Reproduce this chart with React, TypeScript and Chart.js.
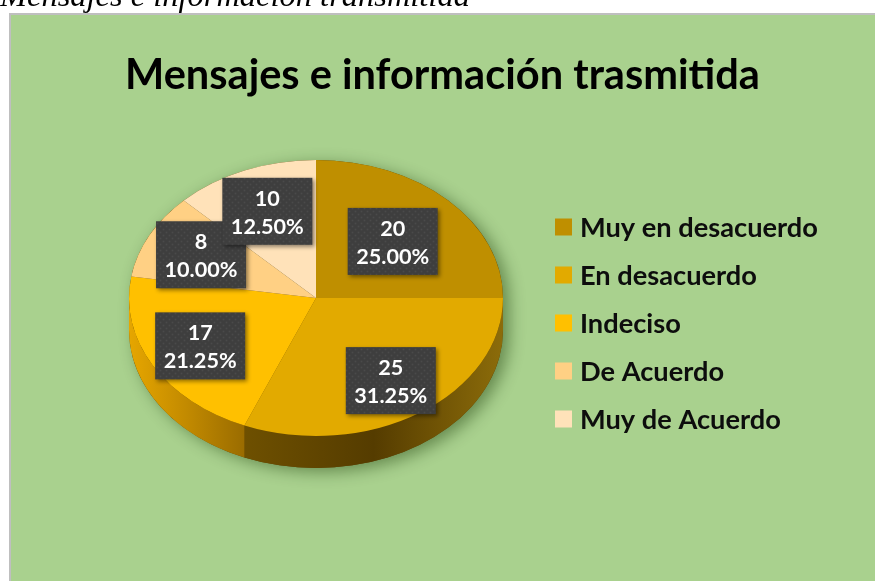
import React, { useEffect, useRef } from "react";
import { Chart, registerables } from "chart.js";

Chart.register(...registerables);

const categories = ["Muy en desacuerdo", "En desacuerdo", "Indeciso", "De Acuerdo", "Muy de Acuerdo"];
const counts = [20, 25, 17, 8, 10];
const titleText = "Mensajes e información trasmitida";
const captionText = "Mensajes e información transmitida";

const sliceColors = ["#BF8F00", "#E2AA00", "#FFC000", "#FFD084", "#FFE2B9"];
// side (extrusion) gradient stops per slice: [left, middle, right]
const sideColors = [
  ["#8A6A08", "#7A5C04", "#8A6A08"],
  ["#6E5000", "#553C00", "#8C6C0A"],
  ["#E6A600", "#C28A00", "#9A6C00"],
  ["#C89A50", "#B08440", "#9A7030"],
  ["#D8B888", "#C8A878", "#B89868"],
];
const labelRadius = [0.58, 0.72, 0.71, 0.69, 0.68];

const FONT = "Lato, 'Noto Sans', sans-serif";

function fitSize(ctx: CanvasRenderingContext2D, text: string, width: number, weight: string, family: string, style = "normal") {
  ctx.save();
  ctx.font = `${style} ${weight} 100px ${family}`;
  const w = ctx.measureText(text).width;
  ctx.restore();
  return (100 * width) / w;
}

let dotPattern: CanvasPattern | null = null;
function getPattern(ctx: CanvasRenderingContext2D) {
  if (dotPattern) return dotPattern;
  const c = document.createElement("canvas");
  c.width = 6;
  c.height = 6;
  const p = c.getContext("2d")!;
  p.fillStyle = "#3E3E3E";
  p.fillRect(0, 0, 6, 6);
  p.fillStyle = "#4A4A4A";
  p.beginPath();
  p.arc(1.5, 1.5, 1, 0, Math.PI * 2);
  p.fill();
  p.beginPath();
  p.arc(4.5, 4.5, 1, 0, Math.PI * 2);
  p.fill();
  dotPattern = ctx.createPattern(c, "repeat");
  return dotPattern;
}

const K = 138 / 187; // vertical squash of the pie
const DEPTH = 32;

const pie3dPlugin = {
  id: "pie3d",
  beforeDraw(chart: any) {
    const ctx: CanvasRenderingContext2D = chart.ctx;
    const W = chart.width;
    const H = chart.height;
    ctx.save();
    ctx.fillStyle = "#FFFFFF";
    ctx.fillRect(0, 0, W, H);
    // caption above the figure (cut off)
    const cs = fitSize(ctx, captionText, 470, "normal", "'Liberation Serif', serif", "italic");
    ctx.font = `italic normal ${cs}px 'Liberation Serif', serif`;
    ctx.fillStyle = "#000000";
    ctx.textBaseline = "alphabetic";
    ctx.textAlign = "left";
    ctx.fillText(captionText, 0, 6);
    // green chart area with grey border
    ctx.fillStyle = "#BFBFBF";
    ctx.fillRect(9, 13, W - 9, H - 13);
    ctx.fillStyle = "#A9D18E";
    ctx.fillRect(11, 15, W - 11, H - 15);
    // title
    const ts = fitSize(ctx, titleText, 635, "bold", FONT);
    ctx.font = `normal bold ${ts}px ${FONT}`;
    ctx.fillStyle = "#000000";
    ctx.textAlign = "center";
    ctx.fillText(titleText, 442.5, 89);
    // legend
    const ls = fitSize(ctx, categories[0], 238, "bold", FONT);
    ctx.font = `normal bold ${ls}px ${FONT}`;
    ctx.textAlign = "left";
    ctx.textBaseline = "middle";
    categories.forEach((c, i) => {
      const y = 227 + i * 48;
      ctx.fillStyle = sliceColors[i];
      ctx.fillRect(555, y - 8.5, 17, 17);
      ctx.fillStyle = "#0D0D0D";
      ctx.fillText(c, 580, y + 1);
    });
    ctx.restore();
  },
  beforeDatasetsDraw(chart: any) {
    const ctx: CanvasRenderingContext2D = chart.ctx;
    const meta = chart.getDatasetMeta(0);
    const arcs = meta.data;
    if (!arcs.length) return;
    const p0 = arcs[0].getProps(["x", "y", "outerRadius"], true);
    const cx = p0.x, cy = p0.y, rx = p0.outerRadius, ry = p0.outerRadius * K;
    // shadow
    ctx.save();
    ctx.shadowColor = "rgba(20,50,0,0.45)";
    ctx.shadowBlur = 16;
    ctx.shadowOffsetX = 6;
    ctx.shadowOffsetY = 4;
    ctx.fillStyle = "#5A4000";
    ctx.beginPath();
    ctx.ellipse(cx, cy, rx, ry, 0, Math.PI, 0, false);
    ctx.ellipse(cx, cy + DEPTH, rx, ry, 0, 0, Math.PI, false);
    ctx.closePath();
    ctx.fill();
    ctx.restore();
    // sides
    arcs.forEach((arc: any, i: number) => {
      const p = arc.getProps(["startAngle", "endAngle"], true);
      const s = Math.max(p.startAngle, 0);
      const e = Math.min(p.endAngle, Math.PI);
      if (e <= s) return;
      const x1 = cx + rx * Math.cos(e);
      const x2 = cx + rx * Math.cos(s);
      const g = ctx.createLinearGradient(Math.min(x1, x2), 0, Math.max(x1, x2), 0);
      g.addColorStop(0, sideColors[i][0]);
      g.addColorStop(0.5, sideColors[i][1]);
      g.addColorStop(1, sideColors[i][2]);
      ctx.save();
      ctx.fillStyle = g;
      ctx.beginPath();
      ctx.ellipse(cx, cy, rx, ry, 0, s, e, false);
      ctx.ellipse(cx, cy + DEPTH, rx, ry, 0, e, s, true);
      ctx.closePath();
      ctx.fill();
      ctx.restore();
    });
    ctx.save();
    ctx.translate(cx, cy);
    ctx.scale(1, K);
    ctx.translate(-cx, -cy);
  },
  afterDatasetsDraw(chart: any) {
    const ctx: CanvasRenderingContext2D = chart.ctx;
    ctx.restore();
    const meta = chart.getDatasetMeta(0);
    const arcs = meta.data;
    const total = counts.reduce((a, b) => a + b, 0);
    const fs = fitSize(ctx, "25.00%", 73, "bold", FONT);
    const pattern = getPattern(ctx);
    arcs.forEach((arc: any, i: number) => {
      const p = arc.getProps(["x", "y", "startAngle", "endAngle", "outerRadius"], true);
      const m = (p.startAngle + p.endAngle) / 2;
      const f = labelRadius[i];
      const lx = p.x + f * p.outerRadius * Math.cos(m);
      const ly = p.y + f * p.outerRadius * K * Math.sin(m);
      const l1 = String(counts[i]);
      const l2 = ((counts[i] / total) * 100).toFixed(2) + "%";
      const bw = 90, bh = 67;
      ctx.save();
      ctx.shadowColor = "rgba(0,0,0,0.45)";
      ctx.shadowBlur = 4;
      ctx.shadowOffsetX = 2;
      ctx.shadowOffsetY = 2;
      ctx.fillStyle = pattern || "#404040";
      ctx.fillRect(lx - bw / 2, ly - bh / 2, bw, bh);
      ctx.restore();
      ctx.save();
      ctx.font = `normal bold ${fs}px ${FONT}`;
      ctx.fillStyle = "#FFFFFF";
      ctx.textAlign = "center";
      ctx.textBaseline = "middle";
      ctx.fillText(l1, lx, ly - 12.5);
      ctx.fillText(l2, lx, ly + 15.5);
      ctx.restore();
    });
  },
};

export default function App() {
  const ref = useRef<HTMLCanvasElement | null>(null);
  useEffect(() => {
    document.body.style.margin = "0";
    if (!ref.current) return;
    const chart = new Chart(ref.current, {
      type: "pie",
      data: {
        labels: categories,
        datasets: [
          {
            data: counts,
            backgroundColor: sliceColors,
            borderWidth: 0,
          },
        ],
      },
      options: {
        responsive: false,
        animation: false,
        devicePixelRatio: 1,
        layout: { padding: { left: 129, right: 372, top: 111, bottom: 96 } },
        plugins: {
          legend: { display: false },
          tooltip: { enabled: false },
          title: { display: false },
        },
      },
      plugins: [pie3dPlugin],
    });
    return () => chart.destroy();
  }, []);
  return (
    <div style={{ width: 875, height: 581, overflow: "hidden", position: "relative" }}>
      <canvas ref={ref} width={875} height={581} style={{ display: "block" }} />
    </div>
  );
}
